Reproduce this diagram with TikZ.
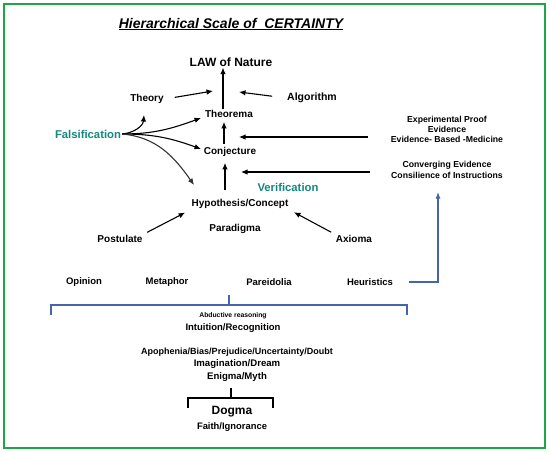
\documentclass[tikz,border=0pt]{standalone}
\usepackage{fontspec}
\setmainfont{Liberation Sans}
\usetikzlibrary{arrows.meta}

\definecolor{falscol}{RGB}{20,135,128}
\definecolor{linkblue}{RGB}{70,100,170}
\definecolor{framegreen}{RGB}{30,165,70}

\tikzset{
  lbl/.style={font=\bfseries\fontsize{10}{12}\selectfont, inner sep=1pt},
  lowlbl/.style={font=\bfseries\fontsize{9.5}{11}\selectfont, inner sep=1pt},
  keyword/.style={inner sep=1pt, text=falscol, font=\bfseries\fontsize{11.3}{13}\selectfont},
  small/.style={font=\bfseries\fontsize{8.7}{10.3}\selectfont, align=center, inner sep=1pt},
  arr/.style={-{Latex[length=6.5pt,width=5.5pt]}, line width=1.1pt},
}

\begin{document}
\begin{tikzpicture}[x=1pt,y=-1pt]

\useasboundingbox (0,0) rectangle (550,453);
\draw[framegreen, line width=1.5pt] (4,4) rectangle (545,448);

% title
\node[font=\bfseries\itshape\fontsize{14}{16}\selectfont] (title) at (231,24) {\underline{Hierarchical Scale of \ CERTAINTY}};

% upper levels
\node[lbl, font=\bfseries\fontsize{12}{14}\selectfont] (law) at (231,62) {LAW of Nature};
\node[lbl] (theory) at (147,99) {Theory};
\node[lbl, font=\bfseries\fontsize{10.5}{12}\selectfont] (algo) at (312,98) {Algorithm};
\node[lbl] (theorema) at (229,114) {Theorema};
\node[lbl] (conj) at (230,152) {Conjecture};
\node[lbl] (hypo) at (240,204) {Hypothesis/Concept};
\node[keyword] (falsi) at (88,134) {Falsification};
\node[keyword] (verif) at (288,187) {Verification};

\node[lbl] (post) at (120,239) {Postulate};
\node[lbl] (para) at (235,229) {Paradigma};
\node[lbl] (axioma) at (354,239) {Axioma};

% evidence on the right
\node[small] (exper) at (447,129.5) {Experimental Proof\\Evidence\\Evidence- Based -Medicine};
\node[small] (conv) at (447,170) {Converging Evidence\\Consilience of Instructions};

% lower levels
\node[lowlbl] (opinion) at (84,282) {Opinion};
\node[lowlbl] (metaphor) at (167,282) {Metaphor};
\node[lowlbl] (pareid) at (269,282) {Pareidolia};
\node[lowlbl] (heur) at (370,282) {Heuristics};

\node[font=\bfseries\fontsize{6.8}{8}\selectfont, inner sep=1pt] (abduct) at (233,316) {Abductive reasoning};
\node[lowlbl] (intuit) at (233,328) {Intuition/Recognition};
\node[lbl, font=\bfseries\fontsize{9}{11}\selectfont] (apoph) at (237,352) {Apophenia/Bias/Prejudice/Uncertainty/Doubt};
\node[lbl, font=\bfseries\fontsize{9.6}{11}\selectfont] (imag) at (237,364) {Imagination/Dream};
\node[lbl, font=\bfseries\fontsize{9.6}{11}\selectfont] (enigma) at (237,377) {Enigma/Myth};
\node[lbl, font=\bfseries\fontsize{12}{14}\selectfont] (dogma) at (232,412) {Dogma};
\node[lbl, font=\bfseries\fontsize{9.4}{11}\selectfont] (faith) at (232,427) {Faith/Ignorance};

% arrow tips on the central stem
\coordinate (tipTheory) at (213,91);
\coordinate (tipAlgo) at (239,92);
\coordinate (tipExper) at (239,137);
\coordinate (tipConv) at (241,172);
\coordinate (tipHeur) at (438,192);

% central stem
\draw[arr] ([xshift=-6pt]theorema.north) -- ([xshift=-6pt]theorema.north |- law.south);
\draw[arr, shorten <=2pt, shorten >=3pt] ([xshift=-6pt]conj.north) -- ([xshift=-6pt]conj.north |- theorema.south);
\draw[arr, shorten <=8pt, shorten >=5pt] ([xshift=-15pt]hypo.north) -- ([xshift=-15pt]hypo.north |- conj.south);

\draw[arr, shorten <=10pt] (theory.east) -- (tipTheory);
\draw[arr, shorten <=14pt] (algo.west) -- (tipAlgo);
\draw[arr, shorten <=22pt] (exper.west |- tipExper) -- (tipExper);
\draw[arr, shorten <=20pt] (conv.west |- tipConv) -- (tipConv);

% falsification
\draw[arr] (falsi.east) to[out=5,in=-95] (144,115);
\draw[arr] (falsi.east) to[out=0,in=200] (201,118);
\draw[arr] (falsi.east) to[out=0,in=160] (201,149);
\draw[arr, black!80] (falsi.east) to[out=-5,in=125] (194,185);

% postulate, axioma
\draw[arr, shorten <=4pt, shorten >=6pt] (post.north east) -- (hypo.south west);
\draw[arr, shorten <=4pt, shorten >=5pt] (axioma.north west) -- (hypo.south east);

% heuristics to verification
\draw[linkblue, line width=1.1pt, -{Latex[length=6.5pt,width=5pt]}, shorten <=15pt] (heur.east) -| (tipHeur);

% brackets
\draw[linkblue, line width=1.1pt] (51,315) -- (51,305) -- (407,305) -- (407,315);
\draw[linkblue, line width=1.1pt] (229,295) -- (229,305);
\draw[line width=1.1pt] (231,388) -- (231,398);
\draw[line width=1.1pt] (188,408) -- (188,398) -- (273,398) -- (273,408);

\end{tikzpicture}
\end{document}
